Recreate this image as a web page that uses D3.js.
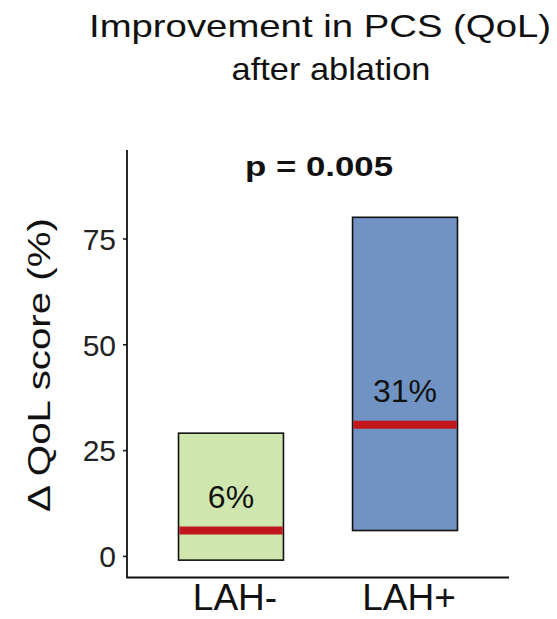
<!DOCTYPE html>
<html>
<head>
<meta charset="utf-8">
<script src="https://cdn.jsdelivr.net/npm/d3@7"></script>
<style>
  html, body { margin: 0; padding: 0; background: #fff; }
  svg { display: block; font-family: "Liberation Sans", Arial, sans-serif; }
</style>
</head>
<body>
<svg id="chart" width="557" height="619"></svg>
<script>
// Groups and their ΔQoL ranges (lower, upper) with median
const categories = ["LAH-", "LAH+"];
const lowerValues = [-1, 6];
const upperValues = [29, 80];
const medianValues = [6, 31];
const medianLabels = ["6%", "31%"];
const yTicks = [0, 25, 50, 75];
const pValueText = "p = 0.005";

const svg = d3.select("#chart");

const x = d3.scaleBand()
  .domain(categories)
  .range([127, 509])
  .paddingInner(0.397)
  .paddingOuter(0.296);

const y = d3.scaleLinear()
  .domain([-5.1, 95.9])
  .range([577.5, 150]);

const fill = d3.scaleOrdinal()
  .domain(categories)
  .range(["#cfe7ae", "#7193c3"]);

const rows = categories.map((c, i) => ({
  cat: c, lo: lowerValues[i], hi: upperValues[i], med: medianValues[i], label: medianLabels[i]
}));

// Range boxes
svg.append("g").selectAll("rect")
  .data(rows)
  .join("rect")
  .attr("x", d => x(d.cat))
  .attr("width", x.bandwidth())
  .attr("y", d => y(d.hi))
  .attr("height", d => y(d.lo) - y(d.hi))
  .attr("fill", d => fill(d.cat))
  .attr("stroke", "#111")
  .attr("stroke-width", 1.6);

// Median bars
svg.append("g").selectAll("line")
  .data(rows)
  .join("line")
  .attr("x1", d => x(d.cat) + 0.8)
  .attr("x2", d => x(d.cat) + x.bandwidth() - 0.8)
  .attr("y1", d => y(d.med))
  .attr("y2", d => y(d.med))
  .attr("stroke", "#c0161c")
  .attr("stroke-width", 8);

// Median labels
svg.append("g").selectAll("text")
  .data(rows)
  .join("text")
  .attr("x", d => x(d.cat) + x.bandwidth() / 2)
  .attr("y", d => y(d.med) - 23)
  .attr("text-anchor", "middle")
  .attr("font-size", 32)
  .attr("fill", "#111")
  .text(d => d.label);

// Y axis
const yAxis = svg.append("g")
  .attr("transform", "translate(127,0)")
  .call(d3.axisLeft(y).tickValues(yTicks).tickSize(4).tickPadding(7));
yAxis.select(".domain").remove();
yAxis.selectAll(".tick line").attr("stroke", "#222").attr("stroke-width", 1.6);
yAxis.selectAll(".tick text")
  .attr("font-size", 30)
  .attr("font-family", "Liberation Sans, Arial, sans-serif")
  .attr("fill", "#222")
  .attr("dy", "0.36em");

// X axis labels
const xAxis = svg.append("g")
  .attr("transform", "translate(0,577.5)")
  .call(d3.axisBottom(x).tickSize(0).tickPadding(6));
xAxis.select(".domain").remove();
xAxis.selectAll(".tick text")
  .attr("font-size", 37)
  .attr("font-family", "Liberation Sans, Arial, sans-serif")
  .attr("fill", "#111")
  .attr("dx", 4)
  .attr("dy", "0.71em");

// Axis lines
svg.append("path")
  .attr("d", d3.line()([[127, 150], [127, 577.5], [509, 577.5]]))
  .attr("fill", "none")
  .attr("stroke", "#111")
  .attr("stroke-width", 1.8);

// Y axis title
svg.append("text")
  .attr("transform", "translate(50,365) rotate(-90)")
  .attr("text-anchor", "middle")
  .attr("font-size", 31)
  .attr("fill", "#111")
  .attr("textLength", 294)
  .attr("lengthAdjust", "spacingAndGlyphs")
  .text("Δ QoL score (%)");

// p value
svg.append("text")
  .attr("x", 319)
  .attr("y", 176)
  .attr("text-anchor", "middle")
  .attr("font-size", 27)
  .attr("font-weight", "bold")
  .attr("fill", "#111")
  .attr("textLength", 148)
  .attr("lengthAdjust", "spacingAndGlyphs")
  .text(pValueText);

// Title
const title = [
  { text: "Improvement in PCS (QoL)", cx: 320, base: 37, len: 462 },
  { text: "after ablation", cx: 331, base: 80, len: 199 }
];
svg.append("g").selectAll("text")
  .data(title)
  .join("text")
  .attr("x", d => d.cx)
  .attr("y", d => d.base)
  .attr("text-anchor", "middle")
  .attr("font-size", 32)
  .attr("fill", "#111")
  .attr("textLength", d => d.len)
  .attr("lengthAdjust", "spacingAndGlyphs")
  .text(d => d.text);
</script>
</body>
</html>
